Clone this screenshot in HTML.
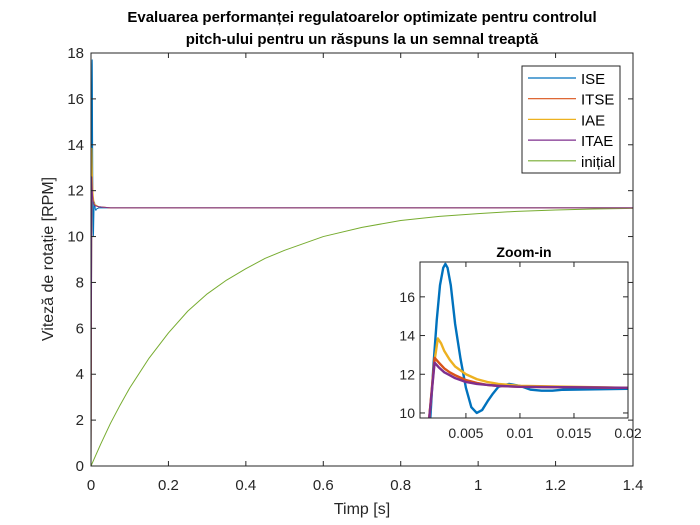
<!DOCTYPE html>
<html><head><meta charset="utf-8"><style>
html,body{margin:0;padding:0;background:#fff;overflow:hidden;width:700px;height:525px;}
svg{display:block;font-family:"Liberation Sans",Arial,sans-serif;}
</style></head><body>
<svg id="chart" width="700" height="525" viewBox="0 0 700 525" xmlns="http://www.w3.org/2000/svg">
<rect x="0" y="0" width="700" height="525" fill="#fff"/>
<text x="362" y="22" font-size="15" font-weight="bold" text-anchor="middle" fill="#000">Evaluarea performanței regulatoarelor optimizate pentru controlul</text>
<text x="362" y="44" font-size="15" font-weight="bold" text-anchor="middle" fill="#000">pitch-ului pentru un răspuns la un semnal treaptă</text>
<g id="main"></g>
<g id="inset"></g>
<text x="362" y="514" font-size="16" text-anchor="middle" fill="#262626">Timp [s]</text>
<text transform="translate(53,259) rotate(-90)" font-size="16" text-anchor="middle" fill="#262626">Viteză de rotație [RPM]</text>
</svg>
<script>
const seriesNames = ["ISE","ITSE","IAE","ITAE","inițial"];
const seriesColors = ["#0072BD","#D95319","#EDB120","#7E2F8E","#77AC30"];
const iseT = [0,0.0017,0.002,0.0023,0.0026,0.0029,0.0031,0.0033,0.0036,0.004,0.0045,0.005,0.0055,0.006,0.0065,0.007,0.0075,0.008,0.009,0.01,0.011,0.012,0.013,0.014,0.02,0.05,1.4];
const iseY = [0,9.7,12.5,14.8,16.6,17.5,17.7,17.5,16.6,14.6,12.8,11.3,10.3,10.0,10.15,10.6,11.0,11.35,11.5,11.4,11.2,11.15,11.15,11.2,11.25,11.25,11.25];
const itseT = [0,0.0016,0.0021,0.0025,0.003,0.0035,0.004,0.005,0.006,0.007,0.008,0.01,0.02,0.05,1.4];
const itseY = [0,9.7,12.85,12.6,12.3,12.1,11.95,11.7,11.55,11.45,11.4,11.35,11.3,11.25,11.25];
const iaeT = [0,0.0016,0.0021,0.0024,0.0027,0.003,0.0035,0.004,0.005,0.006,0.007,0.008,0.01,0.02,0.05,1.4];
const iaeY = [0,9.7,12.7,13.85,13.6,13.2,12.75,12.4,12.0,11.75,11.6,11.5,11.4,11.3,11.25,11.25];
const itaeT = [0,0.0016,0.0021,0.0025,0.003,0.0035,0.004,0.005,0.006,0.007,0.008,0.01,0.02,0.05,1.4];
const itaeY = [0,9.7,12.6,12.35,12.1,11.95,11.8,11.6,11.5,11.45,11.4,11.35,11.3,11.25,11.25];
const initT = [0,0.025,0.05,0.075,0.1,0.15,0.2,0.25,0.3,0.35,0.4,0.45,0.5,0.6,0.7,0.8,0.9,1.0,1.1,1.2,1.3,1.4];
const initY = [0,0.95,1.85,2.65,3.4,4.7,5.8,6.75,7.5,8.1,8.6,9.05,9.4,10.0,10.4,10.7,10.88,11.0,11.1,11.16,11.2,11.23];
const xTicks = [0,0.2,0.4,0.6,0.8,1,1.2,1.4];
const yTicks = [0,2,4,6,8,10,12,14,16,18];
const insetXTicks = [0.005,0.01,0.015,0.02];
const insetXLabels = ["0.005","0.01","0.015","0.02"];
const insetYTicks = [10,12,14,16];

const NS="http://www.w3.org/2000/svg";
function mk(tag,attrs,parent){const e=document.createElementNS(NS,tag);for(const k in attrs)e.setAttribute(k,attrs[k]);parent.appendChild(e);return e;}
const allT=[iseT,itseT,iaeT,itaeT,initT], allY=[iseY,itseY,iaeY,itaeY,initY];

function drawAxes(g,box,xr,yr,xt,xl,yt,lw,insetMode){
  const X=v=>box.x0+(v-xr[0])/(xr[1]-xr[0])*(box.x1-box.x0);
  const Y=v=>box.y1-(v-yr[0])/(yr[1]-yr[0])*(box.y1-box.y0);
  mk('rect',{x:box.x0,y:box.y0,width:box.x1-box.x0,height:box.y1-box.y0,fill:'#fff'},g);
  const cid='clip'+(insetMode?'i':'m');
  const cp=mk('clipPath',{id:cid},g);mk('rect',{x:box.x0,y:box.y0,width:box.x1-box.x0,height:box.y1-box.y0},cp);
  const order=insetMode?[0,2,1,3]:[4,0,1,2,3];
  order.forEach(i=>{
    let d='';allT[i].forEach((t,j)=>{d+=(j?'L':'M')+X(t).toFixed(2)+','+Y(allY[i][j]).toFixed(2);});
    const p=mk('path',{d:d,fill:'none',stroke:seriesColors[i],'stroke-width':lw,'clip-path':'url(#'+cid+')','stroke-linejoin':'round'},g);
    
    
  });
  const fr=mk('rect',{x:box.x0,y:box.y0,width:box.x1-box.x0,height:box.y1-box.y0,fill:'none',stroke:'#262626','stroke-width':1},g);
  
  
  const fs=insetMode?14:15;
  xt.forEach((v,i)=>{const x=X(v);
    mk('line',{x1:x,x2:x,y1:box.y1,y2:box.y1-5,stroke:'#262626'},g);
    mk('line',{x1:x,x2:x,y1:box.y0,y2:box.y0+5,stroke:'#262626'},g);
    const t=mk('text',{x:x,y:box.y1+(insetMode?20:24),'font-size':fs,'text-anchor':'middle',fill:'#262626'},g);t.textContent=xl[i];
    
    });
  yt.forEach(v=>{const y=Y(v);
    mk('line',{x1:box.x0,x2:box.x0+5,y1:y,y2:y,stroke:'#262626'},g);
    mk('line',{x1:box.x1,x2:box.x1-5,y1:y,y2:y,stroke:'#262626'},g);
    const t=mk('text',{x:box.x0-(insetMode?5:7),y:y+5,'font-size':fs,'text-anchor':'end',fill:'#262626'},g);t.textContent=v;
    
    });
}
const gm=document.getElementById('main');
drawAxes(gm,{x0:91,x1:633,y0:53,y1:466},[0,1.4],[0,18],xTicks,xTicks.map(String),yTicks,1,false);

// legend
const lg=mk('g',{},gm);


mk('rect',{x:522,y:66,width:98,height:107,fill:'#fff',stroke:'#262626','stroke-width':1},lg);
seriesNames.forEach((n,i)=>{const y=78+i*20.7;
  const ln=mk('line',{x1:528,x2:576,y1:y,y2:y,stroke:seriesColors[i],'stroke-width':1.2},lg);
  
  
  const t=mk('text',{x:581,y:y+6,'font-size':15,fill:'#000'},lg);t.textContent=n;
  
  });

const gi=document.getElementById('inset');
drawAxes(gi,{x0:420,x1:628,y0:262,y1:418},[0.00075,0.02],[9.74,17.8],insetXTicks,insetXLabels,insetYTicks,2.4,true);
const it=mk('text',{x:524,y:257,'font-size':14,'font-weight':'bold','text-anchor':'middle',fill:'#000'},gi);it.textContent='Zoom-in';


</script>
</body></html>
